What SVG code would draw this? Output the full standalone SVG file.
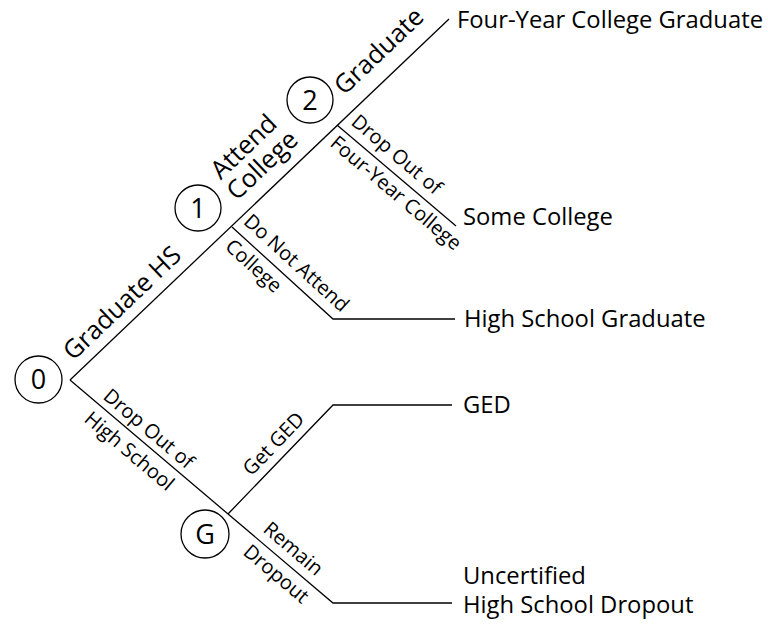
<svg xmlns="http://www.w3.org/2000/svg" width="768" height="627" viewBox="0 0 768 627">
<style>
  .ln { fill: none; stroke: #000; stroke-width: 1.3; }
  .nd { fill: #fff; stroke: #000; stroke-width: 1.3; }
  text { font-family: "Open Sans", "Noto Sans", sans-serif; fill: #000; }
  .num { font-size: 27px; text-anchor: middle; }
  .big { font-size: 25.5px; }
  .sm { font-size: 20px; }
  .out { font-size: 23.8px; }
</style>
<rect width="768" height="627" fill="#fff"/>
<g id="connectors">
  <polyline class="ln" points="70,380 449,19"/>
  <polyline class="ln" points="232,227 333,319 455,319"/>
  <polyline class="ln" points="337,125 456,226"/>
  <polyline class="ln" points="70,380 333,603 452,603"/>
  <polyline class="ln" points="228,514 333,405 452,405"/>
</g>
<g id="edge-labels">
  <text class="big" transform="translate(73.2,361.5) rotate(-43.6)">Graduate HS</text>
  <text class="big" transform="translate(220.8,180.5) rotate(-43.6)">Attend</text>
  <text class="big" transform="translate(236.8,201.5) rotate(-43.6)">College</text>
  <text class="big" transform="translate(344.3,95.9) rotate(-43.6)">Graduate</text>
  <text class="sm" transform="translate(242.4,223) rotate(42.3)">Do Not Attend</text>
  <text class="sm" transform="translate(224,248) rotate(42.3)">College</text>
  <text class="sm" transform="translate(350,123.7) rotate(40.3)">Drop Out of</text>
  <text class="sm" transform="translate(329,145) rotate(40.3)">Four-Year College</text>
  <text class="sm" transform="translate(102,398) rotate(40.3)">Drop Out of</text>
  <text class="sm" transform="translate(83,420.7) rotate(40.3)">High School</text>
  <text class="sm" transform="translate(262,531) rotate(40.3)">Remain</text>
  <text class="sm" transform="translate(242,553.7) rotate(40.3)">Dropout</text>
  <text class="sm" transform="translate(251.3,476.8) rotate(-46.1)">Get GED</text>
</g>
<g id="node-0"><circle class="nd" cx="38.5" cy="379.5" r="23.5"/><text class="num" x="38.5" y="389">0</text></g>
<g id="node-1"><circle class="nd" cx="198" cy="208" r="23"/><text class="num" x="198" y="217.5">1</text></g>
<g id="node-2"><circle class="nd" cx="310" cy="100" r="23"/><text class="num" x="310" y="109.5">2</text></g>
<g id="node-G"><circle class="nd" cx="205" cy="534" r="24"/><text class="num" x="205" y="543.5">G</text></g>
<g id="outcome-4yr"><text class="out" x="457" y="28">Four-Year College Graduate</text></g>
<g id="outcome-some"><text class="out" x="463" y="225">Some College</text></g>
<g id="outcome-hsg"><text class="out" x="464" y="327">High School Graduate</text></g>
<g id="outcome-ged"><text class="out" x="463" y="413">GED</text></g>
<g id="outcome-dropout"><text class="out" x="463" y="584">Uncertified</text><text class="out" x="463" y="613">High School Dropout</text></g>
</svg>
